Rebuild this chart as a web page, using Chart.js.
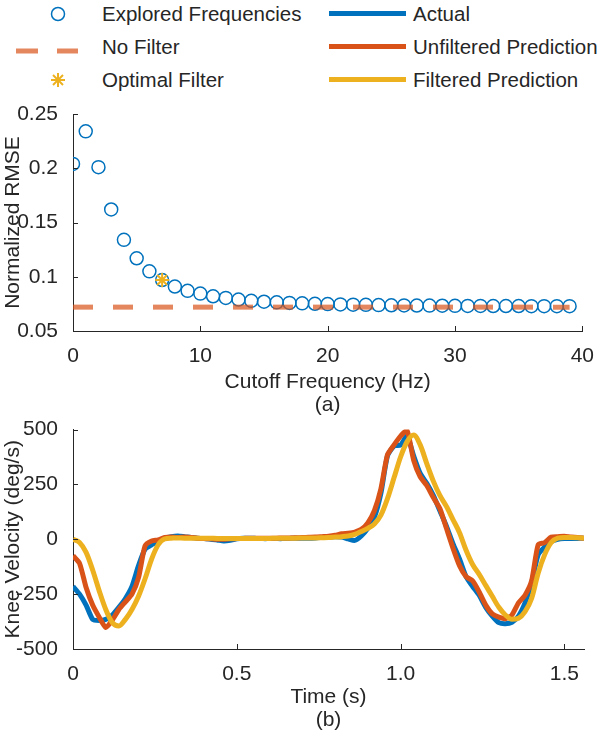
<!DOCTYPE html>
<html><head><meta charset="utf-8">
<script src="https://cdn.jsdelivr.net/npm/chart.js@4.4.1/dist/chart.umd.min.js"></script>
<style>
body{margin:0;background:#fff;width:600px;height:732px;overflow:hidden;position:relative;font-family:"Liberation Sans",Arial,Helvetica,sans-serif;color:#262626}
.lab{position:absolute;font-size:20.5px;line-height:22px;white-space:nowrap;transform:translateY(-50%)}
.sym{position:absolute}
canvas{position:absolute;left:0}
</style></head>
<body>
<div id="legend"></div>
<canvas id="c1" width="600" height="322" style="top:95px"></canvas>
<canvas id="c2" width="600" height="321" style="top:411px"></canvas>
<script>
// ---------- data: panel (a) ----------
const cutoffFreqs = [0,1,2,3,4,5,6,7,8,9,10,11,12,13,14,15,16,17,18,19,20,21,22,23,24,25,26,27,28,29,30,31,32,33,34,35,36,37,38,39];
const normalizedRMSE = [0.204,0.234,0.201,0.162,0.134,0.117,0.105,0.097,0.091,0.087,0.0845,0.082,0.0805,0.079,0.0778,0.077,0.0764,0.0759,0.0755,0.0751,0.0748,0.0745,0.0743,0.0741,0.0739,0.0737,0.0736,0.0735,0.0734,0.0733,0.0732,0.0731,0.0731,0.073,0.073,0.073,0.0729,0.0729,0.0729,0.0729];
const noFilterRMSE = 0.072;
const noFilterRange = [0, 39];
const optimalCutoff = 7;
const optimalRMSE = 0.097;
const rmseTicks = [0.05, 0.1, 0.15, 0.2, 0.25];
const freqTicks = [0, 10, 20, 30, 40];

// ---------- data: panel (b) ----------
const timeS = [0.00,0.02,0.04,0.06,0.08,0.10,0.12,0.14,0.16,0.18,0.20,0.22,0.24,0.26,0.28,0.30,0.32,0.34,0.36,0.38,0.40,0.42,0.44,0.46,0.48,0.50,0.52,0.54,0.56,0.58,0.60,0.62,0.64,0.66,0.68,0.70,0.72,0.74,0.76,0.78,0.80,0.82,0.84,0.86,0.88,0.90,0.92,0.94,0.96,0.98,1.00,1.02,1.04,1.06,1.08,1.10,1.12,1.14,1.16,1.18,1.20,1.22,1.24,1.26,1.28,1.30,1.32,1.34,1.36,1.38,1.40,1.42,1.44,1.46,1.48,1.50,1.52,1.54,1.56];
const actualVel = [-215,-250,-300,-365,-370,-365,-345,-310,-270,-215,-120,-45,-25,-10,5,12,15,12,8,5,3,0,-3,-8,-5,2,5,5,4,3,3,3,3,4,5,5,5,6,8,10,12,10,2,-5,15,50,100,210,380,425,430,470,380,300,255,200,130,60,-20,-90,-170,-215,-255,-310,-350,-380,-385,-378,-350,-290,-200,-70,-35,-10,0,3,3,4,5];
const unfilteredVel = [-75,-110,-220,-300,-355,-402,-368,-320,-285,-250,-175,-30,-8,-3,8,10,8,10,8,5,3,2,0,0,2,3,4,5,5,5,5,5,6,6,7,8,9,10,12,14,18,25,28,33,45,75,130,230,385,430,470,495,360,285,245,190,140,50,-40,-120,-170,-190,-240,-300,-340,-355,-362,-345,-290,-255,-190,-25,-15,10,12,14,10,8,5];
const filteredVel = [0,-15,-60,-140,-235,-320,-380,-395,-365,-320,-260,-180,-90,-25,2,5,6,5,5,5,5,5,4,4,4,4,4,4,4,4,4,5,5,5,5,6,6,6,7,8,10,12,15,22,35,50,70,110,185,280,375,445,475,430,345,265,200,150,90,30,-50,-115,-160,-210,-260,-310,-345,-365,-360,-330,-270,-155,-70,-15,5,8,8,7,5];
const velTicks = [-500, -250, 0, 250, 500];
const timeTicks = [0, 0.5, 1.0, 1.5];
const timeTickLabels = ['0', '0.5', '1.0', '1.5'];

// ---------- legend ----------
const legendLeft = ['Explored Frequencies', 'No Filter', 'Optimal Filter'];
const legendRight = ['Actual', 'Unfiltered Prediction', 'Filtered Prediction'];

const BLUE = '#0072BD', RED = '#D95319', YEL = '#EDB120', SALMON = 'rgba(217,83,25,0.7)';
const TXT = '#262626';
const FONT = '"Liberation Sans", Arial, Helvetica, sans-serif';
const FS = 21;

(function buildLegend(){
  const L = document.getElementById('legend');
  const rows = [14, 47, 80];
  const symX = 58, txtX = 102, lineX1 = 329, lineX2 = 406, txtX2 = 413;
  const symbols = [
    `<svg width="20" height="20"><circle cx="10" cy="10" r="6.5" fill="none" stroke="${BLUE}" stroke-width="1.5"/></svg>`,
    `<svg width="70" height="10"><line x1="0" y1="5" x2="22" y2="5" stroke="${SALMON}" stroke-width="5"/><line x1="41" y1="5" x2="62" y2="5" stroke="${SALMON}" stroke-width="5"/></svg>`,
    `<svg width="20" height="20"><g stroke="${YEL}" stroke-width="2"><line x1="10" y1="3" x2="10" y2="17"/><line x1="3" y1="10" x2="17" y2="10"/><line x1="5" y1="5" x2="15" y2="15"/><line x1="15" y1="5" x2="5" y2="15"/></g></svg>`
  ];
  const symPos = [[symX-10, -10], [16, -5], [symX-10, -10]];
  legendLeft.forEach((t, i) => {
    const s = document.createElement('div'); s.className = 'sym';
    s.style.left = symPos[i][0] + 'px'; s.style.top = (rows[i] + symPos[i][1]) + 'px';
    s.innerHTML = symbols[i]; L.appendChild(s);
    const d = document.createElement('div'); d.className = 'lab';
    d.style.left = txtX + 'px'; d.style.top = rows[i] + 'px'; d.textContent = t; L.appendChild(d);
  });
  const cols = [BLUE, RED, YEL];
  legendRight.forEach((t, i) => {
    const s = document.createElement('div'); s.className = 'sym';
    s.style.left = lineX1 + 'px'; s.style.top = (rows[i] - 3) + 'px';
    s.style.width = (lineX2 - lineX1) + 'px'; s.style.height = '5px'; s.style.background = cols[i];
    L.appendChild(s);
    const d = document.createElement('div'); d.className = 'lab';
    d.style.left = txtX2 + 'px'; d.style.top = rows[i] + 'px'; d.textContent = t; L.appendChild(d);
  });
})();

Chart.defaults.font.family = FONT;
Chart.defaults.color = TXT;

const inwardTicks = {
  id: 'inwardTicks',
  afterDraw(chart) {
    const ctx = chart.ctx, a = chart.chartArea;
    const xs = chart.scales.x, ys = chart.scales.y;
    ctx.save(); ctx.strokeStyle = TXT; ctx.lineWidth = 1; ctx.beginPath();
    xs.ticks.forEach(t => { const p = Math.round(xs.getPixelForValue(t.value)) + 0.5; ctx.moveTo(p, a.bottom); ctx.lineTo(p, a.bottom - 5); });
    ys.ticks.forEach(t => { const p = Math.round(ys.getPixelForValue(t.value)) + 0.5; ctx.moveTo(a.left, p); ctx.lineTo(a.left + 5, p); });
    ctx.stroke(); ctx.restore();
  }
};

function axisX(min, max, ticks, labels, title, h) {
  return {
    type: 'linear', min, max,
    afterBuildTicks: s => { s.ticks = ticks.map(v => ({ value: v })); },
    afterFit: s => { s.height = h; },
    grid: { display: false },
    border: { display: true, color: TXT, width: 1 },
    ticks: { font: { size: FS, lineHeight: 1.1 }, color: TXT, padding: 6, maxRotation: 0, autoSkip: false,
      callback: (v, i) => labels ? labels[i] : String(v) },
    title: { display: true, text: title, font: { size: FS, lineHeight: 1.1 }, color: TXT, padding: 0 }
  };
}
function axisY(min, max, ticks, title) {
  return {
    type: 'linear', min, max,
    afterBuildTicks: s => { s.ticks = ticks.map(v => ({ value: v })); },
    afterFit: s => { s.width = 71; },
    grid: { display: false },
    border: { display: true, color: TXT, width: 1 },
    ticks: { font: { size: FS, lineHeight: 1.1 }, color: TXT, padding: 7, autoSkip: false, callback: v => String(v) },
    title: { display: true, text: title, font: { size: FS, lineHeight: 1.1 }, color: TXT, padding: 0 }
  };
}

new Chart(document.getElementById('c1'), {
  type: 'scatter',
  data: {
    datasets: [
      { label: 'Optimal Filter', data: [{ x: optimalCutoff, y: optimalRMSE }], pointStyle: 'star',
        pointRadius: 7, borderColor: YEL, backgroundColor: YEL, pointBorderWidth: 2, order: 0 },
      { label: 'No Filter', data: noFilterRange.map(x => ({ x, y: noFilterRMSE })), showLine: true,
        borderColor: SALMON, borderWidth: 5, borderDash: [20, 20], pointRadius: 0, order: 1 },
      { label: 'Explored Frequencies', data: cutoffFreqs.map((x, i) => ({ x, y: normalizedRMSE[i] })),
        pointStyle: 'circle', pointRadius: 6.5, borderColor: BLUE, backgroundColor: 'rgba(0,0,0,0)',
        pointBorderWidth: 1.5, order: 2 }
    ]
  },
  options: {
    responsive: false, animation: false, devicePixelRatio: 1,
    layout: { padding: { left: 2, right: 17, top: 19, bottom: 0 } },
    plugins: { legend: { display: false }, tooltip: { enabled: false } },
    scales: {
      x: axisX(0, 40, freqTicks, null, ['Cutoff Frequency (Hz)', '(a)'], 86),
      y: axisY(0.05, 0.25, rmseTicks, 'Normalized RMSE')
    }
  },
  plugins: [inwardTicks]
});

new Chart(document.getElementById('c2'), {
  type: 'line',
  data: {
    datasets: [
      { label: 'Filtered Prediction', data: timeS.map((x, i) => ({ x, y: filteredVel[i] })), borderColor: YEL,
        borderWidth: 5, pointRadius: 0, cubicInterpolationMode: 'monotone', order: 0 },
      { label: 'Unfiltered Prediction', data: timeS.map((x, i) => ({ x, y: unfilteredVel[i] })), borderColor: RED,
        borderWidth: 5, pointRadius: 0, tension: 0.2, order: 1 },
      { label: 'Actual', data: timeS.map((x, i) => ({ x, y: actualVel[i] })), borderColor: BLUE,
        borderWidth: 5, pointRadius: 0, tension: 0.2, order: 2 }
    ]
  },
  options: {
    responsive: false, animation: false, devicePixelRatio: 1,
    layout: { padding: { left: 2, right: 16, top: 12, bottom: 0 } },
    plugins: { legend: { display: false }, tooltip: { enabled: false } },
    scales: {
      x: axisX(0, 1.56, timeTicks, timeTickLabels, ['Time (s)', '(b)'], 83),
      y: axisY(-500, 500, velTicks, 'Knee Velocity (deg/s)')
    }
  },
  plugins: [inwardTicks]
});
</script>
</body></html>
